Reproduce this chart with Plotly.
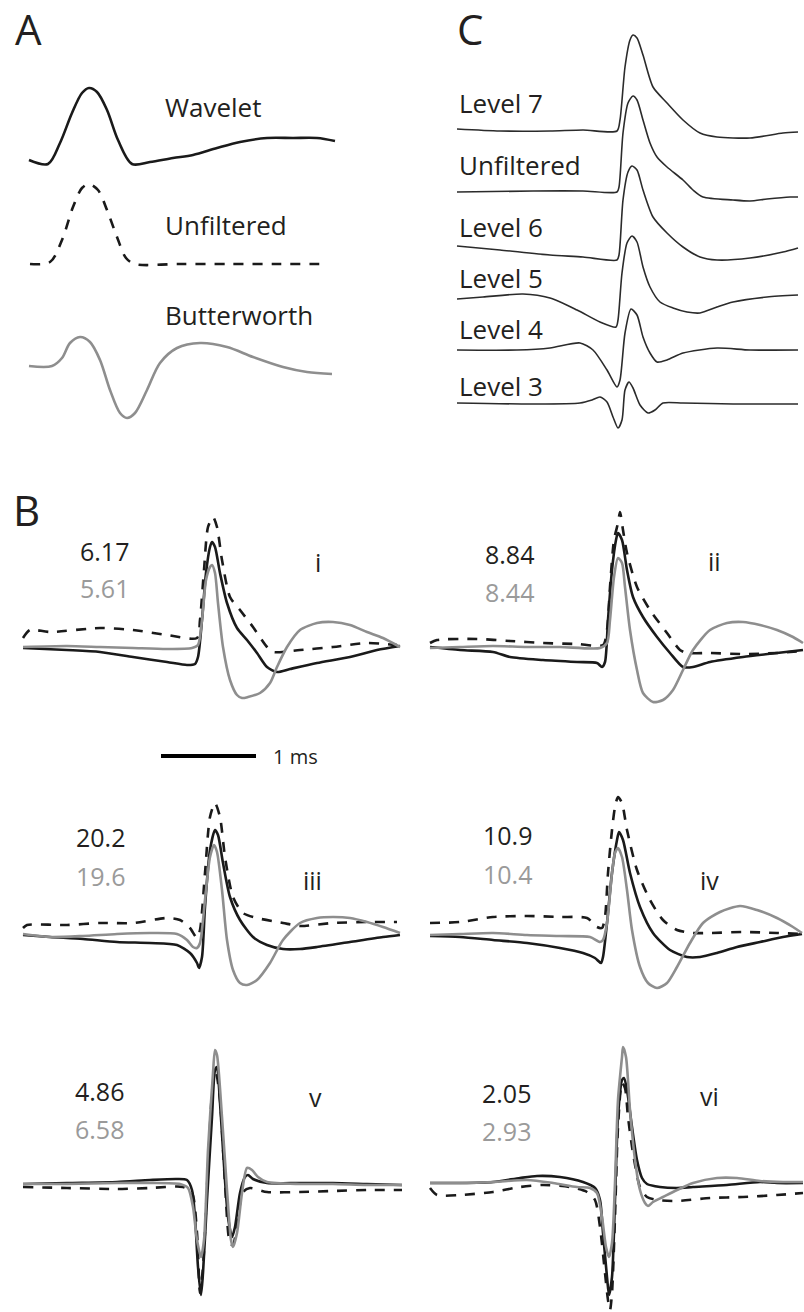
import plotly.graph_objects as go

# ---------------- DATA (samples, amplitude in arbitrary units) ----------------
# Panel A: example waveforms
A_wavelet_x = [0, 19, 31, 43, 53, 60, 68, 78, 89, 103, 121, 144, 164, 188, 211, 238, 264, 288, 306]
A_wavelet_y = [0, -4, 17, 47, 67, 72, 68, 50, 20, -4, -2, 2, 5, 12, 18, 22, 22, 22, 19]
A_unfilt_x = [1, 21, 33, 44, 53, 60, 69, 78, 88, 97, 106, 150, 200, 250, 296]
A_unfilt_y = [0, 2, 24, 57, 76, 80, 74, 54, 27, 6, 0, 0, 0, 0, 0]
A_butter_x = [0, 23, 33, 41, 51, 61, 71, 81, 91, 98, 106, 118, 131, 148, 171, 198, 224, 254, 278, 303]
A_butter_y = [0, 0, 8, 23, 29, 24, 6, -24, -47, -52, -47, -24, 3, 18, 23, 19, 9, -1, -6, -8]
A_labels = ["Wavelet", "Unfiltered", "Butterworth"]
A_offsets = [0, -104, -206]

# Panel C: wavelet decomposition levels
C_labels = ["Level 7", "Unfiltered", "Level 6", "Level 5", "Level 4", "Level 3"]
C_offsets = [0, -62, -116, -169, -220, -273]
C_L7_x = [0, 43, 93, 126, 160, 163, 168, 173, 176, 180, 186, 196, 210, 226, 243, 260, 293, 326, 341]
C_L7_y = [1, -1, -1, 0, -1, 10, 63, 90, 95, 92, 75, 43, 27, 10, -3, -7, -8, -3, -2]
C_UF_x = [0, 76, 126, 160, 162, 166, 171, 176, 180, 186, 193, 200, 210, 226, 236, 246, 276, 293, 310, 333, 341]
C_UF_y = [0, 1, 1, 0, 5, 59, 89, 96, 92, 72, 49, 35, 25, 12, 2, -5, -8, -9, -7, -5, -5]
C_L6_x = [0, 43, 93, 126, 160, 162, 166, 171, 175, 180, 186, 196, 210, 226, 243, 260, 293, 326, 341]
C_L6_y = [0, -4, -9, -11, -14, -9, 46, 74, 80, 76, 56, 29, 13, -1, -11, -14, -12, -6, -2]
C_L5_x = [0, 26, 66, 93, 120, 143, 159, 161, 165, 170, 175, 180, 186, 193, 203, 216, 230, 243, 260, 276, 310, 341]
C_L5_y = [0, 2, 5, 1, -11, -23, -28, -21, 26, 56, 63, 57, 32, 12, -3, -9, -13, -14, -8, -3, 2, 4]
C_L4_x = [0, 60, 93, 123, 136, 150, 160, 163, 168, 174, 180, 186, 193, 200, 210, 226, 260, 293, 341]
C_L4_y = [0, 0, 2, 7, 0, -20, -37, -30, 17, 41, 35, 13, -3, -12, -10, -3, 2, 0, 0]
C_L3_x = [0, 76, 123, 135, 143, 150, 156, 161, 165, 168, 172, 176, 183, 191, 198, 206, 226, 276, 341]
C_L3_y = [0, -1, 0, 3, 6, 1, -14, -25, -17, 13, 21, 15, -2, -10, -7, 0, 0, -1, -1]

# Panel B: six example units (wavelet = black, unfiltered = dashed, Butterworth = gray)
B_numerals = ["i", "ii", "iii", "iv", "v", "vi"]
B_wavelet_vals = ["6.17", "8.84", "20.2", "10.9", "4.86", "2.05"]
B_butter_vals = ["5.61", "8.44", "19.6", "10.4", "6.58", "2.93"]

Bi_wav_x = [0, 44, 77, 110, 144, 164, 172, 175, 179, 183, 187, 189, 192, 197, 204, 214, 224, 234, 244, 254, 267, 294, 327, 354, 377]
Bi_wav_y = [0, -2, -4, -9, -14, -17, -16, -9, 28, 75, 101, 106, 101, 75, 45, 20, 8, -5, -19, -24, -21, -15, -9, -2, 2]
Bi_unf_x = [0, 7, 27, 77, 110, 144, 174, 177, 181, 185, 190, 194, 199, 207, 217, 230, 244, 250, 277, 310, 344, 374]
Bi_unf_y = [10, 18, 16, 20, 18, 13, 10, 28, 78, 121, 131, 121, 88, 51, 38, 21, 1, -4, -2, 1, 5, 3]
Bi_but_x = [0, 44, 77, 110, 144, 169, 175, 179, 183, 187, 189, 192, 195, 200, 207, 214, 219, 225, 237, 247, 254, 264, 277, 294, 310, 327, 344, 360, 377]
Bi_but_y = [1, 2, 1, 0, -1, 0, 3, 28, 68, 81, 83, 75, 45, 1, -32, -47, -50, -49, -45, -35, -19, 1, 18, 25, 26, 23, 16, 10, 1]

Bii_wav_x = [0, 30, 63, 80, 113, 147, 167, 172, 175, 178, 182, 186, 188, 192, 197, 203, 213, 227, 240, 253, 263, 280, 313, 347, 373]
Bii_wav_y = [0, -3, -5, -10, -13, -15, -16, -20, -15, 27, 77, 107, 114, 107, 77, 50, 30, 10, -6, -20, -20, -15, -10, -6, -3]
Bii_unf_x = [0, 7, 47, 80, 113, 147, 173, 177, 180, 184, 188, 190, 193, 197, 207, 220, 237, 250, 257, 280, 313, 347, 373]
Bii_unf_y = [4, 7, 8, 6, 4, 3, 2, 17, 60, 107, 124, 135, 117, 94, 60, 37, 14, -3, -6, -6, -7, -6, -4]
Bii_but_x = [0, 30, 63, 97, 130, 170, 177, 180, 184, 188, 192, 195, 200, 207, 213, 223, 233, 243, 253, 263, 280, 297, 313, 330, 347, 363, 373]
Bii_but_y = [-1, 0, 1, 0, 0, -1, 4, 27, 70, 89, 84, 60, 17, -23, -46, -55, -53, -43, -23, -3, 17, 24, 25, 22, 17, 10, 4]

Biii_wav_x = [0, 27, 60, 94, 127, 154, 167, 174, 176, 179, 182, 187, 192, 195, 200, 207, 217, 230, 244, 260, 277, 294, 327, 360, 377]
Biii_wav_y = [0, -2, -4, -7, -8, -10, -18, -28, -33, -22, 28, 85, 105, 100, 72, 38, 15, -2, -10, -14, -14, -12, -7, -2, 0]
Biii_unf_x = [0, 4, 44, 77, 110, 144, 157, 167, 174, 177, 182, 187, 192, 197, 202, 210, 220, 234, 260, 277, 310, 344, 374]
Biii_unf_y = [7, 10, 10, 12, 12, 17, 15, 7, -3, 5, 62, 118, 132, 118, 78, 38, 22, 17, 12, 9, 12, 13, 13]
Biii_but_x = [0, 27, 60, 94, 127, 154, 164, 170, 174, 177, 182, 187, 191, 194, 199, 204, 210, 217, 224, 234, 247, 260, 277, 294, 310, 327, 344, 360, 377]
Biii_but_y = [1, -2, -1, 1, 2, 1, -5, -12, -13, -8, 35, 78, 90, 83, 45, -5, -35, -48, -50, -45, -28, -5, 12, 17, 18, 17, 13, 8, 2]

Biv_wav_x = [0, 30, 63, 97, 130, 153, 165, 171, 173, 177, 182, 187, 189, 193, 200, 210, 223, 240, 257, 270, 287, 307, 330, 353, 372]
Biv_wav_y = [0, -1, -4, -7, -12, -17, -22, -27, -21, 13, 63, 96, 104, 96, 63, 29, 3, -14, -21, -21, -17, -11, -6, -1, 2]
Biv_unf_x = [0, 30, 63, 97, 130, 157, 167, 172, 175, 178, 182, 185, 188, 192, 197, 207, 220, 233, 247, 263, 280, 313, 347, 372]
Biv_unf_y = [13, 14, 19, 20, 19, 18, 9, 8, 19, 63, 106, 129, 139, 133, 106, 66, 36, 16, 6, 3, 3, 4, 3, 2]
Biv_but_x = [0, 30, 63, 97, 130, 160, 170, 173, 177, 182, 185, 188, 192, 197, 202, 210, 218, 227, 237, 247, 260, 273, 290, 310, 327, 347, 363, 372]
Biv_but_y = [1, 2, 3, 1, 0, -1, -6, -4, 13, 63, 83, 88, 79, 46, 6, -31, -47, -52, -47, -31, -7, 13, 24, 30, 26, 18, 9, 3]

Bv_wav_x = [0, 44, 94, 127, 154, 164, 169, 172, 175, 178, 180, 184, 189, 192, 194, 196, 200, 205, 209, 212, 217, 222, 225, 230, 244, 277, 310, 344, 379]
Bv_wav_y = [0, 1, 2, 4, 5, 4, -6, -33, -83, -111, -89, -16, 67, 114, 117, 97, 34, -33, -53, -43, -9, 7, 9, 5, 1, 1, 1, 0, -1]
Bv_unf_x = [0, 44, 94, 127, 160, 169, 174, 177, 180, 185, 190, 193, 197, 202, 207, 210, 215, 220, 227, 244, 277, 310, 344, 379]
Bv_unf_y = [-3, -4, -5, -4, -3, -9, -49, -109, -83, 17, 101, 111, 84, 1, -59, -61, -33, -8, -4, -8, -8, -7, -6, -6]
Bv_but_x = [0, 44, 94, 127, 157, 165, 170, 174, 178, 181, 185, 190, 192, 194, 199, 204, 208, 210, 214, 219, 224, 229, 235, 244, 277, 310, 344, 379]
Bv_but_y = [0, 0, 1, 1, 0, -4, -23, -56, -73, -56, 34, 111, 134, 129, 67, -6, -56, -63, -49, -9, 16, 14, 7, 2, 0, 0, -1, -1]

Bvi_wav_x = [0, 30, 63, 90, 107, 130, 153, 165, 170, 173, 177, 179, 182, 185, 188, 192, 194, 197, 202, 207, 212, 217, 230, 247, 263, 297, 330, 347, 373]
Bvi_wav_y = [0, 0, 1, 5, 7, 6, 1, -5, -17, -50, -94, -112, -94, -17, 66, 103, 105, 93, 56, 23, 5, -1, -4, -5, -4, -2, 1, 0, 0]
Bvi_unf_x = [0, 7, 30, 63, 90, 113, 140, 157, 165, 170, 175, 178, 180, 182, 185, 188, 192, 195, 198, 203, 210, 217, 227, 247, 280, 313, 347, 373]
Bvi_unf_y = [-5, -12, -12, -9, -4, -2, -4, -9, -17, -44, -90, -117, -127, -110, -34, 56, 100, 95, 66, 30, -4, -14, -17, -18, -15, -14, -12, -10]
Bvi_but_x = [0, 30, 63, 97, 123, 147, 160, 167, 172, 176, 179, 182, 185, 188, 192, 193, 196, 200, 205, 210, 215, 218, 223, 233, 247, 263, 287, 307, 330, 353, 373]
Bvi_but_y = [0, 0, 1, 3, 0, -4, -5, -10, -34, -64, -74, -60, 0, 83, 126, 136, 126, 73, 23, -7, -20, -23, -19, -14, -7, 0, 5, 5, 2, 1, 1]

SCALE_BAR_X = [138, 233]   # 1 ms in samples
SCALE_BAR_Y = [-108, -108]
SCALE_LABEL = "1 ms"

# ---------------- LAYOUT ----------------
W, H = 804, 1312
FONT = "Open Sans"
BLACK = "#1a1a1a"
GRAY = "#8e8e8e"
TXT = "#231f20"
TXT_GRAY = "#9a9a9a"

# panel: (origin x px, baseline y px, box L, T, R, B)
panels = {
    "A":   (29, 160, 15, 70, 345, 440),
    "C":   (457, 130, 450, 20, 804, 440),
    "Bi":  (23, 648, 12, 495, 406, 790),
    "Bii": (430, 647, 418, 495, 804, 790),
    "Biii": (23, 935, 12, 790, 406, 1030),
    "Biv": (430, 936, 418, 790, 804, 1030),
    "Bv":  (23, 1184, 12, 1030, 406, 1312),
    "Bvi": (430, 1183, 418, 1030, 804, 1312),
}
order = list(panels.keys())

fig = go.Figure()
layout = dict(width=W, height=H, margin=dict(l=0, r=0, t=0, b=0),
              paper_bgcolor="white", plot_bgcolor="rgba(0,0,0,0)", showlegend=False)

def ax_id(name):
    k = order.index(name) + 1
    return ("x" if k == 1 else f"x{k}"), ("y" if k == 1 else f"y{k}"), k

for name, (x0, yb, L, T, R, B) in panels.items():
    xa, ya, k = ax_id(name)
    sfx = "" if k == 1 else str(k)
    layout[f"xaxis{sfx}"] = dict(domain=[L / W, R / W], range=[L - x0, R - x0], visible=False,
                                 anchor=ya, fixedrange=True)
    layout[f"yaxis{sfx}"] = dict(domain=[1 - B / H, 1 - T / H], range=[yb - B, yb - T], visible=False,
                                 anchor=xa, fixedrange=True)

def add(name, xs, ys, color, width=2.6, dash=None, offset=0, smoothing=0.9):
    xa, ya, _ = ax_id(name)
    fig.add_trace(go.Scatter(x=xs, y=[v + offset for v in ys], xaxis=xa, yaxis=ya, mode="lines",
                             line=dict(color=color, width=width, dash=dash, shape="spline",
                                       smoothing=smoothing),
                             hoverinfo="skip"))

DASH = "10px,9px"

# Panel A
add("A", A_wavelet_x, A_wavelet_y, BLACK, 2.6, offset=A_offsets[0])
add("A", A_unfilt_x, A_unfilt_y, BLACK, 2.6, dash=DASH, offset=A_offsets[1])
add("A", A_butter_x, A_butter_y, GRAY, 2.6, offset=A_offsets[2])

# Panel C
C_traces = [(C_L7_x, C_L7_y), (C_UF_x, C_UF_y), (C_L6_x, C_L6_y),
            (C_L5_x, C_L5_y), (C_L4_x, C_L4_y), (C_L3_x, C_L3_y)]
for (xs, ys), off in zip(C_traces, C_offsets):
    add("C", xs, ys, "#2b2b2b", 1.6, offset=off, smoothing=0.7)

# Panel B
B_sets = {
    "Bi": (Bi_wav_x, Bi_wav_y, Bi_unf_x, Bi_unf_y, Bi_but_x, Bi_but_y),
    "Bii": (Bii_wav_x, Bii_wav_y, Bii_unf_x, Bii_unf_y, Bii_but_x, Bii_but_y),
    "Biii": (Biii_wav_x, Biii_wav_y, Biii_unf_x, Biii_unf_y, Biii_but_x, Biii_but_y),
    "Biv": (Biv_wav_x, Biv_wav_y, Biv_unf_x, Biv_unf_y, Biv_but_x, Biv_but_y),
    "Bv": (Bv_wav_x, Bv_wav_y, Bv_unf_x, Bv_unf_y, Bv_but_x, Bv_but_y),
    "Bvi": (Bvi_wav_x, Bvi_wav_y, Bvi_unf_x, Bvi_unf_y, Bvi_but_x, Bvi_but_y),
}
for name, (wx, wy, ux, uy, bx, by) in B_sets.items():
    add(name, ux, uy, BLACK, 2.6, dash=DASH, smoothing=0.7)
    add(name, wx, wy, BLACK, 2.6, smoothing=0.7)
    add(name, bx, by, GRAY, 2.6, smoothing=0.7)

# scale bar (linear)
xa, ya, _ = ax_id("Bi")
fig.add_trace(go.Scatter(x=SCALE_BAR_X, y=SCALE_BAR_Y, xaxis=xa, yaxis=ya, mode="lines",
                         line=dict(color="black", width=4), hoverinfo="skip"))

# ---------------- TEXT ----------------
ann = []
def txt(x, y, s, size, color=TXT, xanchor="left"):
    ann.append(dict(x=x / W, y=1 - y / H, xref="paper", yref="paper", text=s, showarrow=False,
                    xanchor=xanchor, yanchor="middle", font=dict(family=FONT, size=size, color=color)))

txt(13, 29, "A", 42)
txt(455, 29, "C", 42)
txt(11, 510, "B", 42)

for lab, y in zip(A_labels, [107, 225, 315]):
    txt(163, y, lab, 26)
for lab, y in zip(C_labels, [103, 165, 227, 278, 329, 386]):
    txt(457, y, lab, 26)

num_pos = [(78, 551, 588, 318, 562), (483, 554, 592, 714, 561),
           (74, 837, 876, 312, 880), (481, 835, 874, 709, 880),
           (73, 1091, 1129, 315, 1097), (480, 1093, 1131, 709, 1096)]
for (xn, y1, y2, xr, yr), r, v1, v2 in zip(num_pos, B_numerals, B_wavelet_vals, B_butter_vals):
    txt(xn, y1, v1, 25)
    txt(xn, y2, v2, 25, TXT_GRAY)
    txt(xr, yr, r, 25, xanchor="center")

txt(271, 756, SCALE_LABEL, 20)

layout["annotations"] = ann
fig.update_layout(**layout)
fig.write_html("out.html")
